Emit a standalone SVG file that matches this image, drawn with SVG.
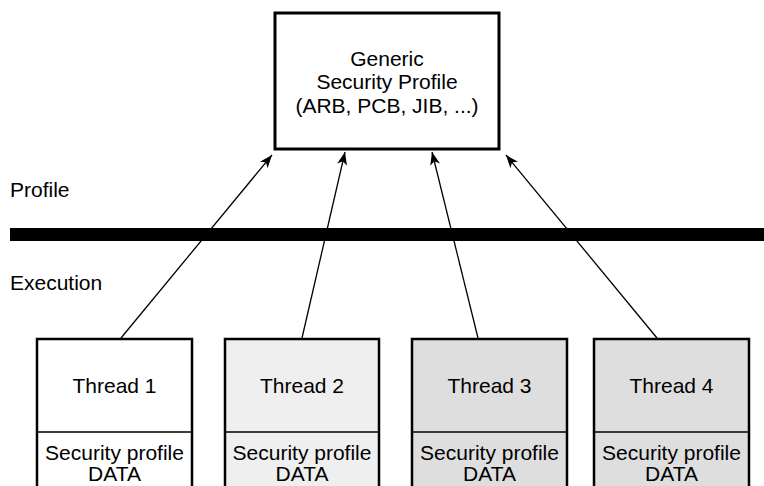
<svg xmlns="http://www.w3.org/2000/svg" width="764" height="486" viewBox="0 0 764 486">
<style>
text{font-family:"Liberation Sans",Arial,sans-serif;font-size:21px;fill:#000;text-anchor:middle}
.lbl{text-anchor:start}
.tb{stroke:#000;stroke-width:2.5}
.div{stroke:#000;stroke-width:1.5}
.conn line{stroke:#000;stroke-width:1.3;marker-end:url(#ah)}
</style>
<defs>
<marker id="ah" markerUnits="userSpaceOnUse" markerWidth="14" markerHeight="10" refX="13" refY="5" orient="auto">
<path d="M0,0 L13,5 L0,10 L3.5,5 z" fill="#000"/>
</marker>
</defs>
<rect width="764" height="486" fill="#fff"/>
<g id="generic">
<rect x="275" y="13" width="224" height="136" fill="#fff" stroke="#000" stroke-width="3"/>
<text x="387" y="66">Generic</text>
<text x="387" y="89">Security Profile</text>
<text x="387" y="113">(ARB, PCB, JIB, ...)</text>
</g>
<g id="layers">
<text class="lbl" x="10" y="197">Profile</text>
<rect x="10" y="228" width="754" height="13" fill="#000"/>
<text class="lbl" x="10" y="290">Execution</text>
</g>
<g id="thread1">
<rect class="tb" x="37" y="339" width="155" height="152" fill="#fff"/>
<line class="div" x1="37" y1="432" x2="192" y2="432"/>
<text x="114.5" y="393">Thread 1</text>
<text x="114.5" y="460">Security profile</text>
<text x="114.5" y="481">DATA</text>
</g>
<g id="thread2">
<rect class="tb" x="225" y="339" width="154" height="152" fill="#efefef"/>
<line class="div" x1="225" y1="432" x2="379" y2="432"/>
<text x="302" y="393">Thread 2</text>
<text x="302" y="460">Security profile</text>
<text x="302" y="481">DATA</text>
</g>
<g id="thread3">
<rect class="tb" x="412" y="339" width="155" height="152" fill="#dedede"/>
<line class="div" x1="412" y1="432" x2="567" y2="432"/>
<text x="489.5" y="393">Thread 3</text>
<text x="489.5" y="460">Security profile</text>
<text x="489.5" y="481">DATA</text>
</g>
<g id="thread4">
<rect class="tb" x="594" y="339" width="155" height="152" fill="#dedede"/>
<line class="div" x1="594" y1="432" x2="749" y2="432"/>
<text x="671.5" y="393">Thread 4</text>
<text x="671.5" y="460">Security profile</text>
<text x="671.5" y="481">DATA</text>
</g>
<g id="connectors" class="conn">
<line x1="121" y1="338" x2="272" y2="155"/>
<line x1="302" y1="338" x2="345" y2="152"/>
<line x1="478" y1="338" x2="432" y2="152"/>
<line x1="657" y1="338" x2="506" y2="155"/>
</g>
</svg>
